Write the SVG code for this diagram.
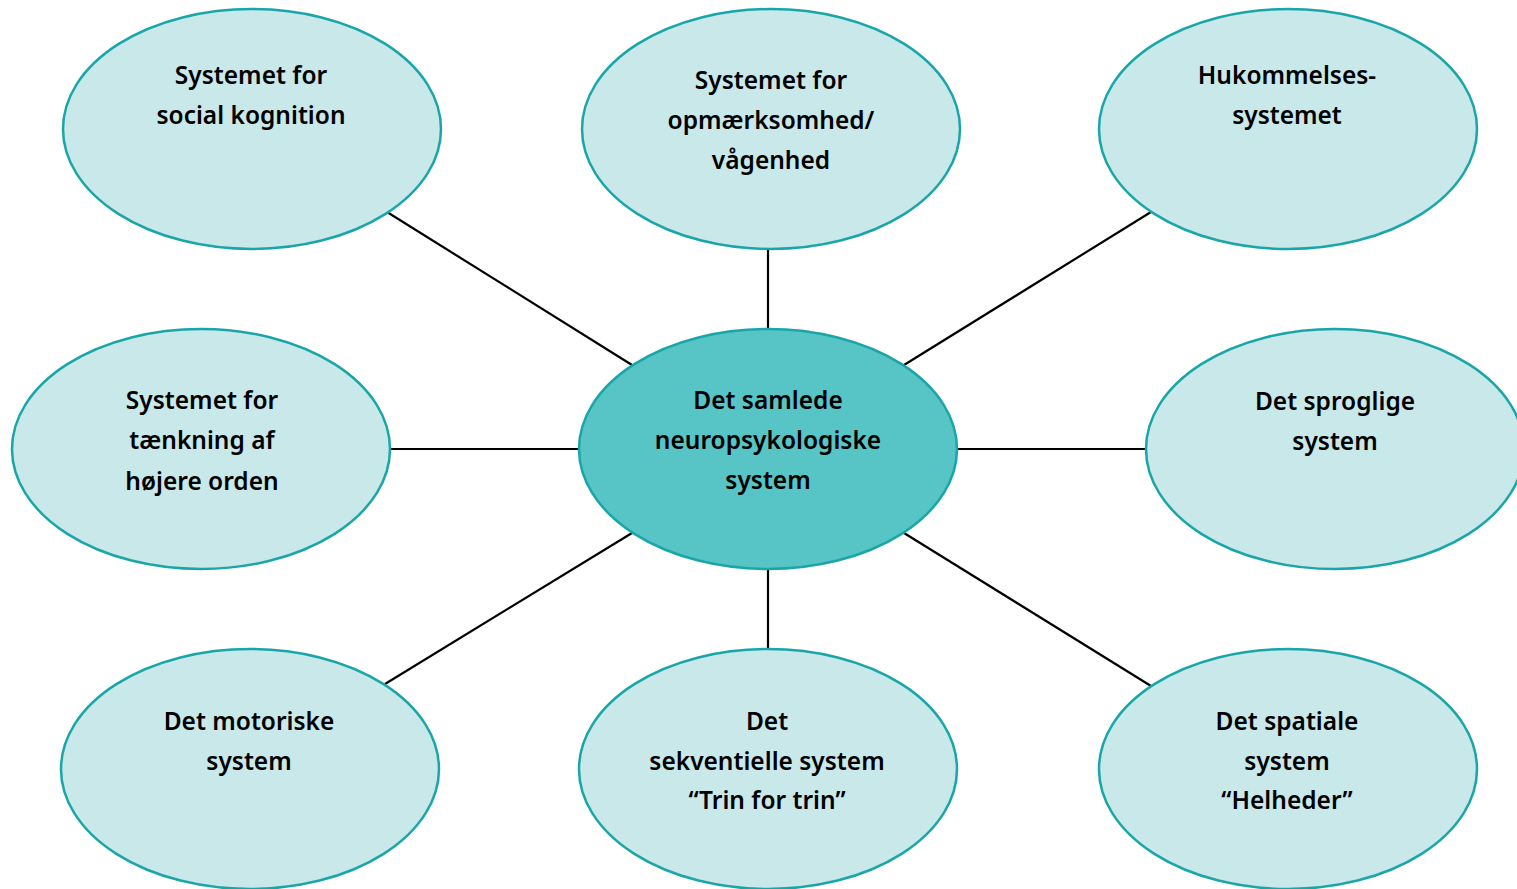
<svg xmlns="http://www.w3.org/2000/svg" width="1517" height="889" viewBox="0 0 1517 889">
<style>
.n{fill:#c8e8ea;stroke:#1aa6a8;stroke-width:2.5}
.c{fill:#57c4c6;stroke:#1aa6a8;stroke-width:2.5}
.l{stroke:#000;stroke-width:2.2;fill:none}
text{font-family:"Noto Sans","Open Sans",sans-serif;font-weight:600;font-size:24.5px;fill:#000;text-anchor:middle}
</style>
<rect width="1517" height="889" fill="#fff"/>
<g id="connectors">
<line class="l" x1="387" y1="212" x2="632" y2="365"/>
<line class="l" x1="768" y1="249" x2="768" y2="329"/>
<line class="l" x1="1151" y1="212" x2="904" y2="365"/>
<line class="l" x1="390" y1="449" x2="579" y2="449"/>
<line class="l" x1="957" y1="449" x2="1146" y2="449"/>
<line class="l" x1="385" y1="684" x2="632" y2="533"/>
<line class="l" x1="768" y1="569" x2="768" y2="649"/>
<line class="l" x1="904" y1="533" x2="1151" y2="686"/>
</g>
<g id="social">
<ellipse class="n" cx="252" cy="129" rx="189" ry="120"/>
<text x="251" y="84">Systemet for</text>
<text x="251" y="124">social kognition</text>
</g>
<g id="opmaerksomhed">
<ellipse class="n" cx="771" cy="129" rx="189" ry="120"/>
<text x="771" y="89">Systemet for</text>
<text x="771" y="129">opmærksomhed/</text>
<text x="771" y="169">vågenhed</text>
</g>
<g id="hukommelse">
<ellipse class="n" cx="1288" cy="129" rx="189" ry="120"/>
<text x="1287" y="84">Hukommelses-</text>
<text x="1287" y="124">systemet</text>
</g>
<g id="taenkning">
<ellipse class="n" cx="201" cy="449" rx="189" ry="120"/>
<text x="202" y="409">Systemet for</text>
<text x="202" y="449">tænkning af</text>
<text x="202" y="490">højere orden</text>
</g>
<g id="center">
<ellipse class="c" cx="768" cy="449" rx="189" ry="120"/>
<text x="768" y="409">Det samlede</text>
<text x="768" y="449">neuropsykologiske</text>
<text x="768" y="489">system</text>
</g>
<g id="sprog">
<ellipse class="n" cx="1335" cy="449" rx="189" ry="120"/>
<text x="1335" y="410">Det sproglige</text>
<text x="1335" y="450">system</text>
</g>
<g id="motor">
<ellipse class="n" cx="250" cy="769" rx="189" ry="120"/>
<text x="249" y="730">Det motoriske</text>
<text x="249" y="770">system</text>
</g>
<g id="sekventiel">
<ellipse class="n" cx="768" cy="769" rx="189" ry="120"/>
<text x="767" y="730">Det</text>
<text x="767" y="770">sekventielle system</text>
<text x="767" y="809">“Trin for trin”</text>
</g>
<g id="spatial">
<ellipse class="n" cx="1288" cy="769" rx="189" ry="120"/>
<text x="1287" y="730">Det spatiale</text>
<text x="1287" y="770">system</text>
<text x="1287" y="809">“Helheder”</text>
</g>
</svg>
